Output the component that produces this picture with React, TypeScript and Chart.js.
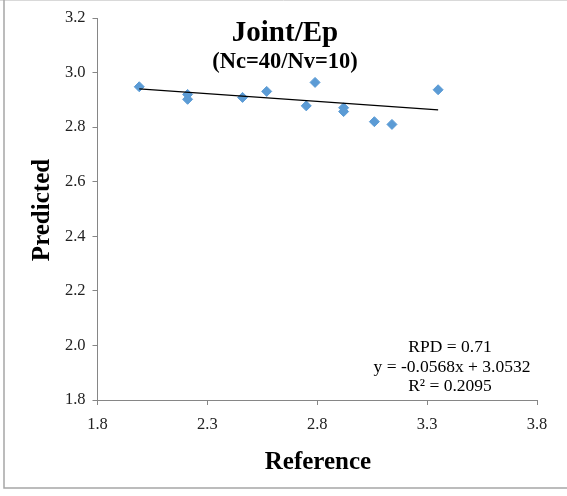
import React, { useEffect, useRef } from "react";
import { Chart, registerables } from "chart.js";

Chart.register(...registerables);

const refValues = [1.99, 2.21, 2.21, 2.46, 2.57, 2.75, 2.79, 2.92, 2.92, 3.06, 3.14, 3.35];
const predValues = [2.948, 2.92, 2.902, 2.909, 2.931, 2.878, 2.964, 2.871, 2.857, 2.82, 2.81, 2.937];
const trendSlope = -0.0568;
const trendIntercept = 3.0532;
const xTicks = [1.8, 2.3, 2.8, 3.3, 3.8];
const yTicks = [1.8, 2.0, 2.2, 2.4, 2.6, 2.8, 3.0, 3.2];
const titleText = "Joint/Ep";
const subtitleText = "(Nc=40/Nv=10)";
const xTitle = "Reference";
const yTitle = "Predicted";
const statsLines = ["RPD = 0.71", "y = -0.0568x + 3.0532", "R² = 0.2095"];

const FONT = "'Liberation Serif', 'Times New Roman', serif";

const overlayPlugin = {
  id: "overlay",
  afterDraw(chart: any) {
    const ctx = chart.ctx as CanvasRenderingContext2D;
    const W = chart.width;
    ctx.save();
    // outer frame
    ctx.strokeStyle = "#d9d9d9";
    ctx.lineWidth = 1;
    ctx.beginPath();
    ctx.moveTo(0, 0.5);
    ctx.lineTo(W, 0.5);
    ctx.stroke();
    ctx.strokeStyle = "#a6a6a6";
    ctx.lineWidth = 1.5;
    ctx.beginPath();
    ctx.moveTo(4, 0);
    ctx.lineTo(4, 488);
    ctx.lineTo(W, 488);
    ctx.stroke();

    ctx.fillStyle = "#000";
    ctx.textAlign = "center";
    ctx.textBaseline = "alphabetic";
    ctx.font = `bold 29px ${FONT}`;
    ctx.fillText(titleText, 285, 41);
    ctx.font = `bold 22.5px ${FONT}`;
    ctx.fillText(subtitleText, 285, 68);

    ctx.font = `17.5px ${FONT}`;
    ctx.fillText(statsLines[0], 450, 352);
    ctx.fillText(statsLines[1], 452, 372);
    ctx.fillText(statsLines[2], 450, 391);

    ctx.font = `bold 25px ${FONT}`;
    ctx.fillText(xTitle, 318, 469);
    ctx.save();
    ctx.translate(49, 210);
    ctx.rotate(-Math.PI / 2);
    ctx.fillText(yTitle, 0, 0);
    ctx.restore();
    ctx.restore();
  },
};

export default function App() {
  const ref = useRef<HTMLCanvasElement | null>(null);
  useEffect(() => {
    if (!ref.current) return;
    const xmin = Math.min(...refValues);
    const xmax = Math.max(...refValues);
    const trend = [
      { x: xmin, y: trendSlope * xmin + trendIntercept },
      { x: xmax, y: trendSlope * xmax + trendIntercept },
    ];
    const pts = refValues.map((x, i) => ({ x, y: predValues[i] }));
    const tickFont = { family: FONT, size: 16.5 };
    const chart = new Chart(ref.current, {
      type: "scatter",
      data: {
        datasets: [
          {
            type: "line",
            data: trend,
            borderColor: "#000",
            borderWidth: 1.3,
            pointRadius: 0,
            showLine: true,
            fill: false,
          } as any,
          {
            data: pts,
            pointStyle: "rectRot",
            pointRadius: 5,
            backgroundColor: "#5B9BD5",
            borderColor: "#5B9BD5",
            borderWidth: 1,
          },
        ],
      },
      options: {
        responsive: false,
        animation: false,
        layout: { padding: { left: 0, right: 30, top: 18, bottom: 0 } },
        plugins: { legend: { display: false }, tooltip: { enabled: false }, title: { display: false } },
        scales: {
          x: {
            type: "linear",
            min: 1.8,
            max: 3.8,
            afterBuildTicks: (s: any) => {
              s.ticks = xTicks.map((v) => ({ value: v }));
            },
            afterFit: (s: any) => {
              s.height = 96;
            },
            ticks: {
              font: tickFont,
              color: "#222",
              padding: 10,
              callback: (v: any) => Number(v).toFixed(1),
            },
            grid: { drawOnChartArea: false, color: "#868686", tickLength: 5 },
            border: { color: "#868686", width: 1 },
          },
          y: {
            type: "linear",
            min: 1.8,
            max: 3.2,
            afterBuildTicks: (s: any) => {
              s.ticks = yTicks.map((v) => ({ value: v }));
            },
            afterFit: (s: any) => {
              s.width = 97.5;
            },
            ticks: {
              font: tickFont,
              color: "#222",
              padding: 7,
              callback: (v: any) => Number(v).toFixed(1),
            },
            grid: { drawOnChartArea: false, color: "#868686", tickLength: 5 },
            border: { color: "#868686", width: 1 },
          },
        },
      },
      plugins: [overlayPlugin],
    });
    return () => chart.destroy();
  }, []);
  return (
    <div style={{ position: "fixed", left: 0, top: 0, width: 567, height: 496, background: "#fff" }}>
      <canvas ref={ref} width={567} height={496} style={{ width: 567, height: 496, display: "block" }} />
    </div>
  );
}
